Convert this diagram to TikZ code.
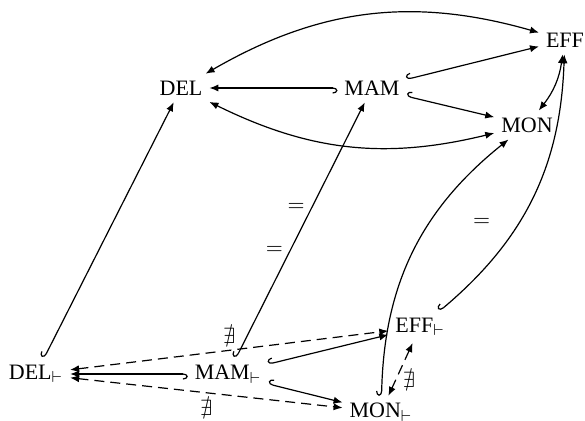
\documentclass[tikz,border=0pt]{standalone}
\usepackage{amssymb}
\usepackage{fontspec}
\setmainfont{Liberation Serif}
\usetikzlibrary{arrows.meta}

\begin{document}
\begin{tikzpicture}[x=0.5pt,y=-0.5pt,
    every node/.style={font=\fontsize{11}{13}\selectfont},
    arrow/.style={-{Latex[length=4.5pt,width=3.6pt]},line width=0.6pt},
    hookarrow/.style={{Hooks[right,length=2.4pt,width=5.6pt]}-{Latex[length=4.5pt,width=3.6pt]},line width=0.6pt},
    twoway/.style={{Latex[length=4.5pt,width=3.6pt]}-{Latex[length=4.5pt,width=3.6pt]},line width=0.6pt},
    maybe/.style={twoway,dashed,dash pattern=on 5pt off 3pt}
  ]
    \useasboundingbox (0,0) rectangle (585,421);

    % top square
    \node (del) at (181,88) {DEL};
    \node (mam) at (372,88) {MAM};
    \node (eff) at (565,40) {EFF};
    \node (mon) at (527,125) {MON};

    % bottom square
    \node (delt) at (36,374) {DEL$_{\vdash}$};
    \node (mamt) at (228,374) {MAM$_{\vdash}$};
    \node (efft) at (420,327) {EFF$_{\vdash}$};
    \node (mont) at (381,412) {MON$_{\vdash}$};

    \draw[hookarrow] (mam) -- (del);
    \draw[hookarrow] (mam) -- (eff);
    \draw[hookarrow] (mam) -- (mon);
    \draw[twoway] (del) to[bend left=23] (eff);
    \draw[twoway] (del) to[bend right=20] (mon);
    \draw[twoway] (eff) to[bend left=15] (mon);

    \draw[hookarrow] (mamt) -- (delt);
    \draw[hookarrow] (mamt) -- (efft);
    \draw[hookarrow] (mamt) -- (mont);
    \draw[maybe] (delt) -- node[above] {$\nexists$} (efft);
    \draw[maybe] (delt) -- node[below] {$\nexists$} (mont);
    \draw[maybe] (efft) -- node[right,pos=.7] {$\nexists$} (mont);

    % vertical maps
    \draw[hookarrow] (delt) -- (del);
    \draw[hookarrow] (mamt) -- node[left,pos=.42] {$=$} node[left,pos=.59] {$=$} (mam);
    \draw[hookarrow] (mont) to[bend left=25] node[right=18pt,pos=.62] {$=$} (mon);
    \draw[hookarrow] (efft) to[bend right=24] (eff);
  \end{tikzpicture}
\end{document}
